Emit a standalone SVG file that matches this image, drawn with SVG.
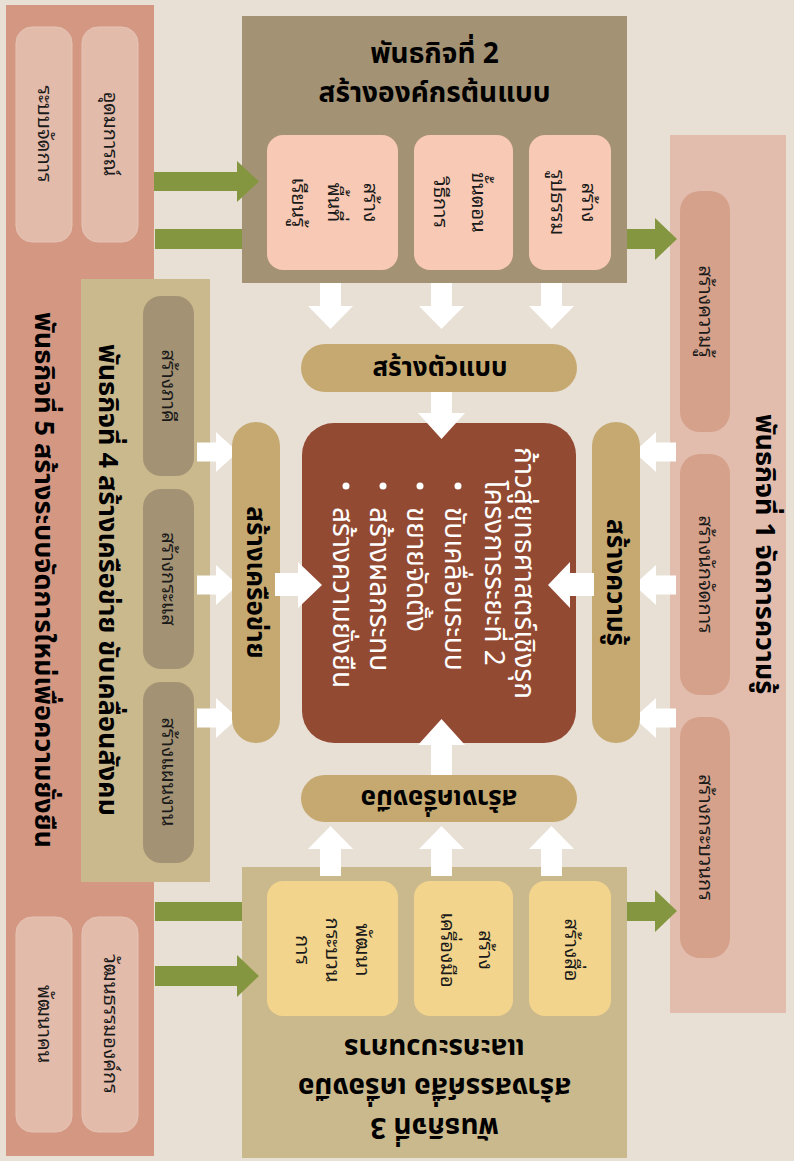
<svg xmlns="http://www.w3.org/2000/svg" width="794" height="1161" viewBox="0 0 794 1161">
<style>
.t{font-family:'Noto Sans Thai','Noto Sans',sans-serif;font-weight:bold;fill:#000}
.s{font-family:'Noto Sans Thai Looped','Noto Serif Thai','Noto Sans Thai','Noto Sans',sans-serif;font-size:20px;fill:#1a1a1a;text-anchor:middle}
.w{fill:#fff}
.g{fill:#849640}
</style>
<rect x="0" y="0" width="794" height="1161" fill="#E8E0D5"/>
<g id="mission1">
<rect x="670" y="135" width="116" height="878" fill="#E2BDAE"/>
<rect x="680" y="191" width="50" height="241" rx="20" fill="#D5A18B"/>
<rect x="680" y="454" width="50" height="241" rx="20" fill="#D5A18B"/>
<rect x="680" y="717" width="50" height="241" rx="20" fill="#D5A18B"/>
<text class="s" transform="translate(705,311.5) rotate(90)" y="6">สร้างความรู้</text>
<text class="s" transform="translate(705,574.5) rotate(90)" y="6">สร้างนักจัดการ</text>
<text class="s" transform="translate(705,837.5) rotate(90)" y="6">สร้างกระบวนกร</text>
<text class="t" font-size="27" text-anchor="middle" transform="translate(765,554) rotate(90)" y="9">พันธกิจที่ 1 จัดการความรู้</text>
</g>
<g id="mission5">
<rect x="6" y="5" width="148" height="1151" fill="#D49782"/>
<rect x="16" y="27" width="56" height="215" rx="16" fill="#E2BBAB" stroke="#E6C4B5"/>
<rect x="82" y="27" width="56" height="215" rx="16" fill="#E2BBAB" stroke="#E6C4B5"/>
<rect x="16" y="917" width="56" height="215" rx="16" fill="#E2BBAB" stroke="#E6C4B5"/>
<rect x="82" y="917" width="56" height="215" rx="16" fill="#E2BBAB" stroke="#E6C4B5"/>
<text class="s" transform="translate(44,134) rotate(90)" y="6">ระบบจัดการ</text>
<text class="s" transform="translate(110,134) rotate(90)" y="6">อุดมการณ์</text>
<text class="s" transform="translate(44,1024) rotate(90)" y="6">พัฒนาคน</text>
<text class="s" transform="translate(110,1024) rotate(90)" y="6">วัฒนธรรมองค์กร</text>
<text class="t" font-size="27" text-anchor="middle" transform="translate(44,580) rotate(90)" y="9">พันธกิจที่ 5 สร้างระบบจัดการใหม่เพื่อความยั่งยืน</text>
</g>
<g id="mission4">
<rect x="81" y="279" width="129" height="603" fill="#CBB98E"/>
<rect x="143" y="296" width="51" height="180" rx="18" fill="#A49274"/>
<rect x="143" y="489" width="51" height="180" rx="18" fill="#A49274"/>
<rect x="143" y="682" width="51" height="181" rx="18" fill="#A49274"/>
<text class="s" transform="translate(168,386) rotate(90)" y="6">สร้างภาคี</text>
<text class="s" transform="translate(168,579) rotate(90)" y="6">สร้างกระแส</text>
<text class="s" transform="translate(168,772) rotate(90)" y="6">สร้างแผนงาน</text>
<text class="t" font-size="27" text-anchor="middle" transform="translate(108,580) rotate(90)" y="9">พันธกิจที่ 4 สร้างเครือข่าย ขับเคลื่อนสังคม</text>
</g>
<g id="connectors">
<polygon class="g" points="155,229 655,229 655,218 677,239 655,260 655,249 155,249"/>
<polygon class="g" points="155,902 655,902 655,890 677,911 655,932 655,921 155,921"/>
</g>
<g id="mission2">
<rect x="242" y="16" width="385" height="267" fill="#A49274"/>
<text class="t" font-size="28" text-anchor="middle" x="434.5" y="63">พันธกิจที่ 2</text>
<text class="t" font-size="28" text-anchor="middle" x="434.5" y="102">สร้างองค์กรต้นแบบ</text>
<rect x="267" y="135" width="131" height="135" rx="16" fill="#F8C9B4"/>
<rect x="414" y="135" width="99" height="135" rx="16" fill="#F8C9B4"/>
<rect x="529" y="135" width="82" height="135" rx="16" fill="#F8C9B4"/>
<text class="s" transform="translate(334,202.5) rotate(90)"><tspan x="0" y="-30">สร้าง</tspan><tspan x="0" y="6">พื้นที่</tspan><tspan x="0" y="42">เรียนรู้</tspan></text>
<text class="s" transform="translate(459,202.5) rotate(90)"><tspan x="0" y="-13">ขั้นตอน</tspan><tspan x="0" y="25">วิธีการ</tspan></text>
<text class="s" transform="translate(572,202.5) rotate(90)"><tspan x="0" y="-10">สร้าง</tspan><tspan x="0" y="21">รูปธรรม</tspan></text>
</g>
<g id="mission3">
<rect x="242" y="867" width="385" height="291" fill="#CBB98E"/>
<rect x="267" y="881" width="131" height="135" rx="16" fill="#F3D48C"/>
<rect x="414" y="881" width="99" height="135" rx="16" fill="#F3D48C"/>
<rect x="529" y="881" width="82" height="135" rx="16" fill="#F3D48C"/>
<text class="s" transform="translate(332,950) rotate(90)"><tspan x="0" y="-24">พัฒนา</tspan><tspan x="0" y="6">กระบวน</tspan><tspan x="0" y="36">การ</tspan></text>
<text class="s" transform="translate(466,950) rotate(90)"><tspan x="0" y="-13">สร้าง</tspan><tspan x="0" y="25">เครื่องมือ</tspan></text>
<text class="s" transform="translate(571,950) rotate(90)" y="6">สร้างสื่อ</text>
<g transform="rotate(180 434.5 1088)">
<text class="t" font-size="28" text-anchor="middle" x="434.5" y="1058">พันธกิจที่ 3</text>
<text class="t" font-size="28" text-anchor="middle" x="434.5" y="1098">สร้างสรรค์สื่อ เครื่องมือ</text>
<text class="t" font-size="28" text-anchor="middle" x="434.5" y="1137">และกระบวนการ</text>
</g>
</g>
<g id="connectors-front">
<polygon class="g" points="154,172 237,172 237,161 259,181.5 237,202 237,191 154,191"/>
<polygon class="g" points="155,966 237,966 237,955 259,976 237,997 237,986 155,986"/>
<polygon class="w" points="320,283 341,283 341,306 353,306 330.5,329 308,306 320,306"/>
<polygon class="w" points="431,283 452,283 452,306 464,306 441.5,329 419,306 431,306"/>
<polygon class="w" points="541,283 562,283 562,306 574,306 551.5,329 529,306 541,306"/>
<polygon class="w" points="320,876 341,876 341,849 353,849 330.5,826 308,849 320,849"/>
<polygon class="w" points="431,876 452,876 452,849 464,849 441.5,826 419,849 431,849"/>
<polygon class="w" points="541,876 562,876 562,849 574,849 551.5,826 529,849 541,849"/>
<polygon class="w" points="197,442.5 216,442.5 216,432 238,452 216,472 216,461.5 197,461.5"/>
<polygon class="w" points="197,575.5 216,575.5 216,565 238,585 216,605 216,594.5 197,594.5"/>
<polygon class="w" points="197,708.5 216,708.5 216,698 238,718 216,738 216,727.5 197,727.5"/>
<polygon class="w" points="676,442.5 656,442.5 656,432 634,452 656,472 656,461.5 676,461.5"/>
<polygon class="w" points="676,575.5 656,575.5 656,565 634,585 656,605 656,594.5 676,594.5"/>
<polygon class="w" points="676,708.5 656,708.5 656,698 634,718 656,738 656,727.5 676,727.5"/>
</g>
<g id="pill-top">
<rect x="301" y="344" width="276" height="48" rx="24" fill="#C6A970"/>
<text class="t" font-size="26" text-anchor="middle" x="440" y="376">สร้างตัวแบบ</text>
</g>
<g id="pill-bottom">
<rect x="301" y="775" width="276" height="47" rx="23.5" fill="#C6A970"/>
<text class="t" font-size="26" text-anchor="middle" transform="rotate(180 439 798.5)" x="439" y="807">สร้างเครื่องมือ</text>
</g>
<g id="pill-left">
<rect x="232" y="422" width="48" height="321" rx="24" fill="#C6A970"/>
<text class="t" font-size="26" text-anchor="middle" transform="translate(256,582.5) rotate(90)" y="9">สร้างเครือข่าย</text>
</g>
<g id="pill-right">
<rect x="592" y="422" width="48" height="321" rx="24" fill="#C6A970"/>
<text class="t" font-size="26" text-anchor="middle" transform="translate(616,582.5) rotate(90)" y="9">สร้างความรู้</text>
</g>
<g id="center">
<rect x="302" y="423" width="274" height="320" rx="32" fill="#934A33"/>
<g font-family="'Noto Sans Thai','Noto Sans',sans-serif" font-size="28" fill="#fff">
<text transform="translate(523,573) rotate(90)" y="8" text-anchor="middle">ก้าวสู่ยุทธศาสตร์เชิงรุก</text>
<text transform="translate(493,573) rotate(90)" y="8" text-anchor="middle">โครงการระยะที่ 2</text>
<g transform="translate(0,507)">
<text transform="translate(453,0) rotate(90)" y="8">ขับเคลื่อนระบบ</text>
<text transform="translate(415,0) rotate(90)" y="8">ขยายจัดตั้ง</text>
<text transform="translate(378,0) rotate(90)" y="8">สร้างผลกระทบ</text>
<text transform="translate(341,0) rotate(90)" y="8">สร้างความยั่งยืน</text>
</g>
<circle cx="458" cy="486" r="3.5"/>
<circle cx="420" cy="486" r="3.5"/>
<circle cx="383" cy="486" r="3.5"/>
<circle cx="346" cy="486" r="3.5"/>
</g>
</g>
<g id="center-arrows">
<polygon class="w" points="431,392 452,392 452,413 465,413 441.5,439 418,413 431,413"/>
<polygon class="w" points="431,775 452,775 452,745 465,745 441.5,719 418,745 431,745"/>
<polygon class="w" points="275,573 298,573 298,562 322,585 298,608 298,596 275,596"/>
<polygon class="w" points="594,573 570,573 570,562 548,585 570,608 570,596 594,596"/>
</g>
</svg>
